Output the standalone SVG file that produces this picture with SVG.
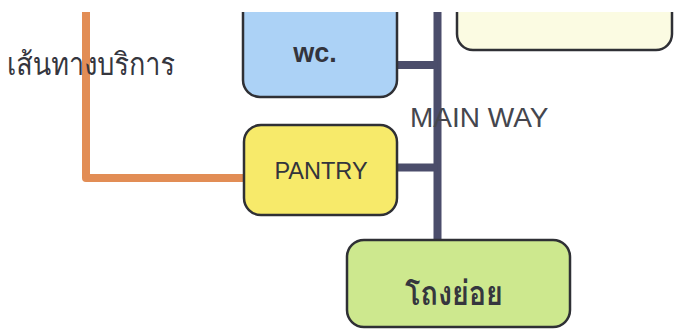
<svg xmlns="http://www.w3.org/2000/svg" width="675" height="330" viewBox="0 0 675 330">
<defs>
<clipPath id="page"><rect x="0" y="12" width="675" height="318"/></clipPath>
</defs>
<style>
.box{stroke:#2f3035;stroke-width:2.5}
.lbl{font-family:"Liberation Sans",Arial,sans-serif;fill:#33343c;text-anchor:middle}
.thai{font-family:"Garuda","Loma","Norasi","Noto Sans Thai Looped","Noto Serif Thai","Noto Sans Thai","Noto Sans",sans-serif;fill:#35363e}
.main{stroke:#4b4d6b;stroke-width:8;fill:none}
.svc{stroke:#e28d55;stroke-width:8;fill:none;stroke-linejoin:round}
</style>
<rect width="675" height="330" fill="#ffffff"/>
<g clip-path="url(#page)">
<g id="connectors">
<polyline class="svc" points="86,0 86,178 245,178"/>
<line class="main" x1="437.5" y1="0" x2="437.5" y2="241"/>
<line class="main" x1="396" y1="65" x2="437.5" y2="65"/>
<line class="main" x1="397" y1="167.5" x2="437.5" y2="167.5"/>
</g>
<g id="label-service">
<text class="thai" x="7" y="75" font-size="31" textLength="168" lengthAdjust="spacingAndGlyphs">เส้นทางบริการ</text>
</g>
<g id="label-mainway">
<text x="410" y="127" font-family="'Liberation Sans',Arial,sans-serif" font-size="28" fill="#45464e">MAIN WAY</text>
</g>
<g id="node-top">
<rect class="box" x="457" y="-20" width="215" height="70" rx="16" fill="#fbfbe2"/>
</g>
<g id="node-wc">
<rect class="box" x="243" y="-10" width="154" height="107" rx="17" fill="#acd2f6"/>
<text class="lbl" x="315" y="62" font-size="27" font-weight="bold">wc.</text>
</g>
<g id="node-pantry">
<rect class="box" x="244" y="125" width="153" height="90" rx="17" fill="#f7ea6a"/>
<text class="lbl" x="321" y="179" font-size="23.5">PANTRY</text>
</g>
<g id="node-hall">
<rect class="box" x="347" y="240" width="223" height="87" rx="17" fill="#cde88e"/>
<text class="thai" x="405" y="305" font-size="34" font-weight="bold" textLength="98" lengthAdjust="spacingAndGlyphs">โถงย่อย</text>
</g>
</g>
</svg>
